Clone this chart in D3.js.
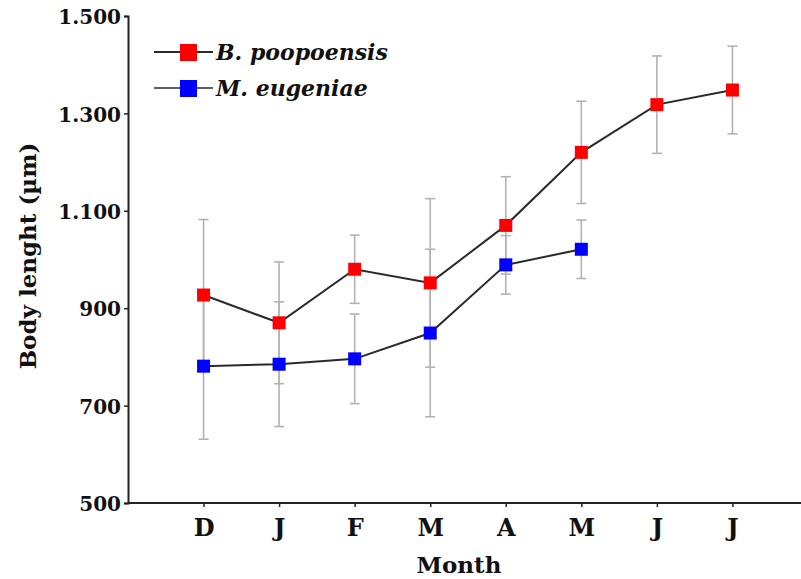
<!DOCTYPE html>
<html>
<head>
<meta charset="utf-8">
<script src="https://cdn.jsdelivr.net/npm/d3@7"></script>
<style>
  body { margin: 0; background: #fff; }
  text { font-family: "DejaVu Serif", serif; font-weight: bold; fill: #111; }
</style>
</head>
<body>
<svg id="chart"></svg>
<script>
// months on the x axis
const months = ["D", "J", "F", "M", "A", "M", "J", "J"];

// B. poopoensis: mean body length and error
const poopMean = [927, 870, 980, 952, 1070, 1220, 1318, 1348];
const poopErr  = [155, 125, 70, 173, 100, 105, 100, 90];

// M. eugeniae: mean body length and error (Dec - May only)
const eugMean = [781, 785, 796, 849, 989, 1021];
const eugErr  = [150, 128, 92, 172, 60, 60];

const yTicks = [500, 700, 900, 1100, 1300, 1500];

const series = [
  {name: "B. poopoensis", mean: poopMean, err: poopErr, color: "#ff0000"},
  {name: "M. eugeniae", mean: eugMean, err: eugErr, color: "#0000ff"}
];

const width = 801, height = 579;
const margin = {top: 16, left: 128};
const plotH = 487;

const svg = d3.select("#chart")
    .attr("width", width)
    .attr("height", height);

const x = d3.scalePoint()
    .domain(d3.range(months.length))
    .range([margin.left, margin.left + 680])
    .padding(1);

const y = d3.scaleLinear()
    .domain([500, 1500])
    .range([margin.top + plotH, margin.top]);

const fmt = d3.formatLocale({decimal: ",", thousands: ".", grouping: [3], currency: ["", ""]}).format(",");

// axes
const xAxisG = svg.append("g")
    .attr("transform", `translate(0,${y(500)})`)
    .call(d3.axisBottom(x).tickSize(4).tickFormat(i => months[i]));
xAxisG.select(".domain").remove();
xAxisG.append("line")
    .attr("x1", margin.left).attr("x2", width)
    .attr("stroke", "#222").attr("stroke-width", 2);
xAxisG.selectAll(".tick line").attr("stroke", "#222").attr("stroke-width", 1.5);
xAxisG.selectAll(".tick text")
    .attr("dy", "1.1em")
    .style("font-size", "24px")
    .style("font-family", "DejaVu Serif")
    .style("font-weight", "bold")
    .attr("fill", "#111");

const yAxisG = svg.append("g")
    .attr("transform", `translate(${margin.left},0)`)
    .call(d3.axisLeft(y).tickValues(yTicks).tickSize(4).tickFormat(fmt));
yAxisG.select(".domain").attr("stroke", "#222").attr("stroke-width", 2);
yAxisG.selectAll(".tick line").attr("stroke", "#222").attr("stroke-width", 1.5);
yAxisG.selectAll(".tick text")
    .attr("x", -7)
    .attr("dy", "0.38em")
    .style("font-size", "20px")
    .style("font-family", "DejaVu Serif")
    .style("font-weight", "bold")
    .attr("fill", "#111");

// axis titles
svg.append("text")
    .attr("x", 459)
    .attr("y", 573)
    .attr("text-anchor", "middle")
    .style("font-size", "23px")
    .text("Month");

svg.append("text")
    .attr("transform", `translate(36,256) rotate(-90)`)
    .attr("text-anchor", "middle")
    .style("font-size", "23px")
    .text("Body lenght (µm)");

// error bars
const capW = 5;
series.forEach(s => {
  const g = svg.append("g").attr("stroke", "#b3b3b3").attr("stroke-width", 1.6);
  s.mean.forEach((m, i) => {
    const cx = x(i);
    g.append("line").attr("x1", cx).attr("x2", cx).attr("y1", y(m - s.err[i])).attr("y2", y(m + s.err[i]));
    g.append("line").attr("x1", cx - capW).attr("x2", cx + capW).attr("y1", y(m + s.err[i])).attr("y2", y(m + s.err[i]));
    g.append("line").attr("x1", cx - capW).attr("x2", cx + capW).attr("y1", y(m - s.err[i])).attr("y2", y(m - s.err[i]));
  });
});

// lines
const line = d3.line().x((d, i) => x(i)).y(d => y(d));
series.forEach(s => {
  svg.append("path")
      .datum(s.mean)
      .attr("fill", "none")
      .attr("stroke", "#2a2a2a")
      .attr("stroke-width", 2)
      .attr("d", line);
});

// markers
const mk = 13;
series.forEach(s => {
  svg.append("g").selectAll("rect")
      .data(s.mean)
      .join("rect")
      .attr("x", (d, i) => x(i) - mk / 2)
      .attr("y", d => y(d) - mk / 2)
      .attr("width", mk)
      .attr("height", mk)
      .attr("fill", s.color);
});

// legend
const legend = svg.append("g");
series.forEach((s, i) => {
  const ly = 52 + i * 36;
  legend.append("line")
      .attr("x1", 154).attr("x2", 213)
      .attr("y1", ly).attr("y2", ly)
      .attr("stroke", "#2a2a2a").attr("stroke-width", i === 0 ? 2 : 1.5);
  legend.append("rect")
      .attr("x", 180).attr("y", ly - 8)
      .attr("width", 17).attr("height", 17)
      .attr("fill", s.color);
  legend.append("text")
      .attr("x", 216).attr("y", ly)
      .attr("dy", "0.35em")
      .style("font-size", "22px")
      .style("font-style", "italic")
      .text(s.name);
});
</script>
</body>
</html>
